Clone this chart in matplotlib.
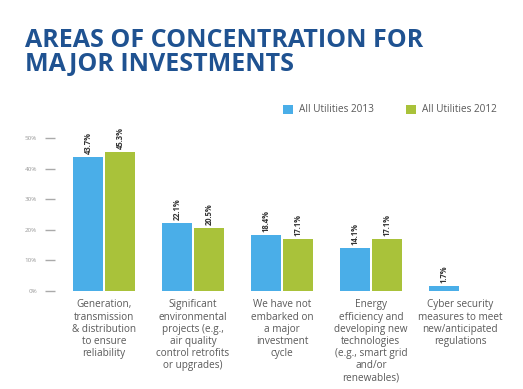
import numpy as np
import matplotlib
matplotlib.use('Agg')
import matplotlib.pyplot as plt

categories = ['Generation,\ntransmission\n& distribution\nto ensure\nreliability',
              'Significant\nenvironmental\nprojects (e.g.,\nair quality\ncontrol retrofits\nor upgrades)',
              'We have not\nembarked on\na major\ninvestment\ncycle',
              'Energy\nefficiency and\ndeveloping new\ntechnologies\n(e.g., smart grid\nand/or\nrenewables)',
              'Cyber security\nmeasures to meet\nnew/anticipated\nregulations']
vals_2013 = [43.7, 22.1, 18.4, 14.1, 1.7]
vals_2012 = [45.3, 20.5, 17.1, 17.1, None]
yticks = [0, 10, 20, 30, 40, 50]

blue = '#4aaee8'
green = '#a9c23a'
gray = '#5a5a5a'

plt.rcParams['font.family'] = ['Open Sans', 'DejaVu Sans']

fig = plt.figure(figsize=(5.23, 3.89), dpi=100)
ax = fig.add_axes([55 / 523, 98 / 389, 445 / 523, 153 / 389])

x = np.arange(len(categories))
w = 0.33
off = 0.18

for i in range(len(categories)):
    ax.bar(x[i] - off, vals_2013[i], w, color=blue,
           label='All Utilities 2013' if i == 0 else None)
    ax.text(x[i] - off, vals_2013[i] + 1, f'{vals_2013[i]:.1f}%', rotation=90,
            ha='center', va='bottom', fontsize=5.5, color='#333333', fontweight='bold')
    if vals_2012[i] is not None:
        ax.bar(x[i] + off, vals_2012[i], w, color=green,
               label='All Utilities 2012' if i == 0 else None)
        ax.text(x[i] + off, vals_2012[i] + 1, f'{vals_2012[i]:.1f}%', rotation=90,
                ha='center', va='bottom', fontsize=5.5, color='#333333', fontweight='bold')

ax.set_xlim(-0.55, 4.45)
ax.set_ylim(0, 50)
for s in ax.spines.values():
    s.set_visible(False)
ax.set_yticks(yticks)
ax.set_yticklabels([f'{t}%' for t in yticks], fontsize=4.5, color='#999999')
ax.tick_params(axis='y', length=7.2, width=1, color='#aaaaaa', pad=5.8)
ax.set_xticks(x)
ax.set_xticklabels(categories, fontsize=7.2, color=gray, linespacing=1.15, va='top')
ax.tick_params(axis='x', length=0, pad=6)

ax.legend(loc='center left', bbox_to_anchor=(274 / 523, 1 - 110 / 389),
          bbox_transform=fig.transFigure, ncol=2, frameon=False, fontsize=7.2,
          handlelength=1, handleheight=1, columnspacing=3.2, handletextpad=0.6,
          labelcolor=gray)

fig.text(25 / 523, 1 - 28 / 389, 'AREAS OF CONCENTRATION FOR\nMAJOR INVESTMENTS',
         ha='left', va='top', fontsize=18, fontweight='bold', color='#1f5291',
         linespacing=0.93)

fig.savefig('out.png', dpi=100)
